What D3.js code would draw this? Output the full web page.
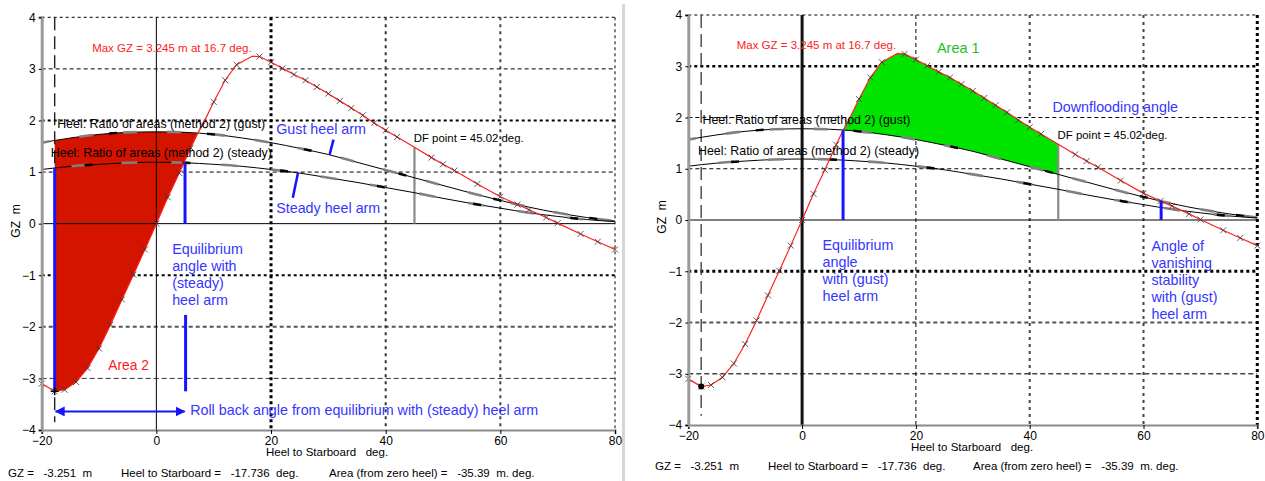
<!DOCTYPE html>
<html>
<head>
<meta charset="utf-8">
<script src="https://cdn.jsdelivr.net/npm/d3@7"></script>
<style>
body { margin: 0; background: #fff; }
svg { display: block; font-family: "Liberation Sans", Arial, sans-serif; }
text { white-space: pre; }
</style>
</head>
<body>
<div class="svg-container"></div>
<script>
//Data
const heelAngles = [-20, -17.736, -16, -14, -12, -10, -8, -6, -4, -2, 0, 2, 4, 6, 7.2, 8, 10, 12, 14, 16.7, 18, 20,
    22, 24, 26, 28, 30, 32, 34, 36, 38, 40, 42, 45.02, 48, 50, 52, 56, 60, 63, 65, 68, 70, 74, 77, 80];
const gzValues = [-3.10, -3.251, -3.22, -3.07, -2.80, -2.42, -1.96, -1.47, -0.99, -0.50, 0, 0.51, 0.98, 1.47, 1.75, 1.90, 2.36, 2.78, 3.08, 3.245, 3.24, 3.13,
    3.01, 2.89, 2.78, 2.65, 2.52, 2.38, 2.24, 2.10, 1.95, 1.81, 1.68, 1.48, 1.28, 1.15, 1.03, 0.77, 0.52, 0.37, 0.27, 0.12, 0.01, -0.20, -0.35, -0.50];

const armAngles = [-20, -15, -10, -5, 0, 5, 10, 15, 20, 25, 30, 35, 40, 45, 50, 55, 60, 65, 70, 75, 80];
const gustArm   = [1.57, 1.66, 1.73, 1.77, 1.78, 1.77, 1.73, 1.66, 1.57, 1.46, 1.34, 1.19, 1.04, 0.89, 0.74, 0.59, 0.45, 0.32, 0.21, 0.12, 0.05];
const steadyArm = [1.05, 1.11, 1.15, 1.18, 1.19, 1.18, 1.15, 1.11, 1.05, 0.98, 0.89, 0.80, 0.70, 0.60, 0.49, 0.39, 0.30, 0.21, 0.14, 0.08, 0.04];

const xTicks = [-20, 0, 20, 40, 60, 80];
const yTicks = [4, 3, 2, 1, 0, -1, -2, -3, -4];

const rollBackHeel = -17.736;
const rollBackGZ = -3.251;
const dfAngle = 45.02;
const eqSteadyAngle = 5.0;
const eqGustAngle = 7.2;
const vanishGustAngle = 63.1;

const readouts = ['GZ =   -3.251  m', 'Heel to Starboard =   -17.736  deg.', 'Area (from zero heel) =   -35.39  m. deg.'];
const labels = {
    maxGZ: 'Max GZ = 3.245 m at 16.7 deg.',
    gust: 'Heel: Ratio of areas (method 2) (gust)',
    steady: 'Heel: Ratio of areas (method 2) (steady)',
    df: 'DF point = 45.02 deg.',
    xTitle: 'Heel to Starboard   deg.',
    yTitle: 'GZ  m'
};

//helpers
const gzAt = d3.scaleLinear().domain(heelAngles).range(gzValues);
const gustAt = d3.scaleLinear().domain(armAngles).range(gustArm);
const steadyAt = d3.scaleLinear().domain(armAngles).range(steadyArm);

const BLUE = '#1414ff';
const BLUE_TXT = '#3535ff';
const BIG = 14.3;   //blue annotation text
const SMALL = 12.4; //black curve labels

const svg = d3.select('.svg-container')
    .append('svg')
    .attr('width', 1265)
    .attr('height', 481);

const defs = svg.append('defs');
defs.append('marker')
    .attr('id', 'arrow')
    .attr('viewBox', '0 0 10 10')
    .attr('refX', 9).attr('refY', 5)
    .attr('markerWidth', 5).attr('markerHeight', 5)
    .attr('orient', 'auto-start-reverse')
    .append('path')
    .attr('d', 'M0,0L10,5L0,10z')
    .attr('fill', BLUE);

//panel separator
svg.append('line')
    .attr('x1', 623.5).attr('x2', 623.5).attr('y1', 4).attr('y2', 481)
    .attr('stroke', '#d6d6d6').attr('stroke-width', 3);

function drawFrame(p) {
    const x = d3.scaleLinear().domain([-20, 80]).range(p.xRange);
    const y = d3.scaleLinear().domain([-4, 4]).range(p.yRange);
    const g = svg.append('g').attr('class', p.name);

    //grid
    p.gridY.forEach(gl => {
        g.append('line')
            .attr('x1', x(-20)).attr('x2', x(80))
            .attr('y1', y(gl.v)).attr('y2', y(gl.v))
            .attr('stroke', gl.c || '#000')
            .attr('stroke-width', gl.w)
            .attr('stroke-dasharray', gl.d || '3,3');
    });
    p.gridX.forEach(gl => {
        g.append('line')
            .attr('x1', x(gl.v)).attr('x2', x(gl.v))
            .attr('y1', y(4)).attr('y2', y(-4))
            .attr('stroke', gl.c || '#000')
            .attr('stroke-width', gl.w)
            .attr('stroke-dasharray', gl.d || '3,3');
    });

    return { g, x, y };
}

function drawAxes(f, p) {
    const { g, x, y } = f;
    const xAxis = d3.axisBottom(x).tickValues(xTicks).tickSize(4).tickPadding(2);
    const xg = g.append('g')
        .attr('transform', `translate(0, ${y(-4)})`)
        .call(xAxis);
    xg.select('.domain').attr('stroke', '#8a8a8a').attr('stroke-width', 2);
    xg.selectAll('text').attr('font-size', 12).attr('font-family', 'Liberation Sans, Arial').attr('fill', '#000');

    const yAxis = d3.axisLeft(y).tickValues(yTicks).tickSize(3).tickPadding(3);
    const yg = g.append('g')
        .attr('transform', `translate(${x(-20)}, 0)`)
        .call(yAxis);
    yg.select('.domain').attr('stroke', '#9a9a9a').attr('stroke-width', 3);
    yg.selectAll('text').attr('font-size', 12).attr('font-family', 'Liberation Sans, Arial').attr('fill', '#000');

    g.append('text')
        .attr('x', p.xTitle[0]).attr('y', p.xTitle[1])
        .attr('font-size', 11.5).attr('dominant-baseline', 'middle')
        .text(labels.xTitle);
    g.append('text')
        .attr('transform', `translate(${p.yTitle[0]}, ${p.yTitle[1]}) rotate(-90)`)
        .attr('font-size', 12).attr('text-anchor', 'middle').attr('dominant-baseline', 'middle')
        .text(labels.yTitle);

    //readouts along the bottom
    readouts.forEach((t, i) => {
        g.append('text')
            .attr('x', p.readX[i]).attr('y', p.readY)
            .attr('font-size', 11.5).attr('dominant-baseline', 'middle')
            .text(t);
    });
}

function drawCurves(f, p) {
    const { g, x, y } = f;
    const armLine = d3.line().x(d => x(d[0])).y(d => y(d[1])).curve(d3.curveMonotoneX);
    [gustArm, steadyArm].forEach((arm, k) => {
        const pts = armAngles.map((a, i) => [a, arm[i]]);
        g.append('path').attr('d', armLine(pts))
            .attr('fill', 'none').attr('stroke', '#000').attr('stroke-width', 1);
        g.append('path').attr('d', armLine(pts))
            .attr('fill', 'none').attr('stroke', '#808080').attr('stroke-width', 2.6)
            .attr('stroke-dasharray', k ? '16,34' : '14,30')
            .attr('stroke-dashoffset', k ? 20 : 6);
        g.append('path').attr('d', armLine(pts))
            .attr('fill', 'none').attr('stroke', '#000').attr('stroke-width', 2.4)
            .attr('stroke-dasharray', '8,90')
            .attr('stroke-dashoffset', k ? 55 : 30);
    });

    //GZ curve
    const gzLine = d3.line().x(d => x(d[0])).y(d => y(d[1]));
    const gzPts = heelAngles.map((a, i) => [a, gzValues[i]]);
    g.append('path').attr('d', gzLine(gzPts))
        .attr('fill', 'none').attr('stroke', '#ff2020').attr('stroke-width', 1.2);
    g.append('g').selectAll('path.mark')
        .data(gzPts.filter(d => d[0] !== 16.7 && d[0] !== 7.2 && d[0] !== dfAngle))
        .enter()
        .append('path')
        .attr('class', 'mark')
        .attr('transform', d => `translate(${x(d[0])}, ${y(d[1])})`)
        .attr('d', 'M-3,-3L3,3M-3,3L3,-3')
        .attr('stroke', '#333').attr('stroke-width', 0.8);
}

function fillBetween(f, lo, hi, lowerFn, upperFn, color) {
    const { g, x, y } = f;
    const xs = Array.from(new Set([lo, hi]
        .concat(heelAngles.filter(a => a > lo && a < hi))
        .concat(armAngles.filter(a => a > lo && a < hi))))
        .sort((a, b) => a - b);
    const area = d3.area()
        .x(d => x(d))
        .y0(d => y(lowerFn(d)))
        .y1(d => y(upperFn(d)));
    g.append('path').attr('d', area(xs)).attr('fill', color);
}

function addText(g, px, py, str, size, color, lines) {
    const t = g.append('text')
        .attr('x', px).attr('y', py)
        .attr('font-size', size).attr('fill', color)
        .attr('dominant-baseline', 'middle');
    if (lines) {
        lines.forEach((l, i) => t.append('tspan').attr('x', px).attr('dy', i ? 17 : 0).text(l));
    } else {
        t.text(str);
    }
    return t;
}

///////////////////////////////////////////////////////////
// LEFT PANEL - steady heel arm, area 2
const leftCfg = {
    name: 'left',
    xRange: [41.7, 615],
    yRange: [430, 17.3],
    gridY: [
        { v: 4, w: 1 }, { v: 3, w: 1, d: '4,3' }, { v: 2, w: 2.2 }, { v: 1, w: 1, d: '4,3' },
        { v: -1, w: 2.2 }, { v: -2, w: 2, c: '#555', d: '4,3' }, { v: -3, w: 1, c: '#333', d: '5,3' }
    ],
    gridX: [
        { v: 20, w: 3, d: '3,3' }, { v: 40, w: 2, c: '#333', d: '3,4' }, { v: 60, w: 2, c: '#444', d: '3,4' }, { v: 80, w: 1, d: '3,3' }
    ],
    xTitle: [266, 453],
    yTitle: [17, 221],
    readX: [8, 121, 329],
    readY: 474
};
const L = drawFrame(leftCfg);

fillBetween(L, rollBackHeel, eqGustAngle, gzAt, gustAt, '#d51400');

L.g.append('line')
    .attr('x1', L.x(0)).attr('x2', L.x(0)).attr('y1', L.y(4)).attr('y2', L.y(-4))
    .attr('stroke', '#000').attr('stroke-width', 1);
L.g.append('line')
    .attr('x1', L.x(-20)).attr('x2', L.x(80)).attr('y1', L.y(0)).attr('y2', L.y(0))
    .attr('stroke', '#000').attr('stroke-width', 1);
L.g.append('line')
    .attr('x1', L.x(rollBackHeel)).attr('x2', L.x(rollBackHeel)).attr('y1', L.y(4)).attr('y2', L.y(-3.85))
    .attr('stroke', '#222').attr('stroke-width', 1.4).attr('stroke-dasharray', '13,6');
L.g.append('line')
    .attr('x1', L.x(dfAngle)).attr('x2', L.x(dfAngle)).attr('y1', L.y(0)).attr('y2', L.y(gzAt(dfAngle)))
    .attr('stroke', '#8a8a8a').attr('stroke-width', 2.2);

drawCurves(L, leftCfg);
drawAxes(L, leftCfg);

//blue markers
L.g.append('line')
    .attr('x1', L.x(rollBackHeel)).attr('x2', L.x(rollBackHeel))
    .attr('y1', L.y(steadyAt(rollBackHeel))).attr('y2', L.y(rollBackGZ))
    .attr('stroke', BLUE).attr('stroke-width', 3);
L.g.append('line')
    .attr('x1', L.x(eqSteadyAngle)).attr('x2', L.x(eqSteadyAngle))
    .attr('y1', L.y(0)).attr('y2', L.y(steadyAt(eqSteadyAngle)))
    .attr('stroke', BLUE).attr('stroke-width', 3);
L.g.append('line')
    .attr('x1', L.x(5.1)).attr('x2', L.x(5.1))
    .attr('y1', L.y(-1.77)).attr('y2', L.y(-3.25))
    .attr('stroke', BLUE).attr('stroke-width', 3);
L.g.append('line')
    .attr('x1', L.x(rollBackHeel) + 1).attr('x2', L.x(5.1) - 1)
    .attr('y1', L.y(-3.64)).attr('y2', L.y(-3.64))
    .attr('stroke', BLUE).attr('stroke-width', 2)
    .attr('marker-start', 'url(#arrow)').attr('marker-end', 'url(#arrow)');
L.g.append('line')
    .attr('x1', L.x(30.9)).attr('x2', L.x(30.2)).attr('y1', L.y(1.63)).attr('y2', L.y(1.33))
    .attr('stroke', BLUE).attr('stroke-width', 2.5);
L.g.append('line')
    .attr('x1', L.x(24.7)).attr('x2', L.x(23.8)).attr('y1', L.y(0.98)).attr('y2', L.y(0.50))
    .attr('stroke', BLUE).attr('stroke-width', 2.5);
L.g.append('path')
    .attr('transform', `translate(${L.x(rollBackHeel)}, ${L.y(rollBackGZ)})`)
    .attr('d', 'M-4,0L4,0M0,-4L0,4')
    .attr('stroke', '#000').attr('stroke-width', 1.5);

//texts
addText(L.g, L.x(-11.2), L.y(3.39), labels.maxGZ, 11.5, '#ff2020');
addText(L.g, L.x(-17.3), L.y(1.92), labels.gust, SMALL, '#000');
addText(L.g, L.x(-18.4), L.y(1.36), labels.steady, SMALL, '#000');
addText(L.g, L.x(44.9), L.y(1.65), labels.df, 11.4, '#000');
addText(L.g, L.x(20.9), L.y(1.82), 'Gust heel arm', BIG, BLUE_TXT);
addText(L.g, L.x(20.9), L.y(0.28), 'Steady heel arm', BIG, BLUE_TXT);
addText(L.g, L.x(2.76), L.y(-0.52), null, BIG, BLUE_TXT, ['Equilibrium', 'angle with', '(steady)', 'heel arm']);
addText(L.g, L.x(-8.4), L.y(-2.77), 'Area 2', 13.8, '#ff2020');
addText(L.g, L.x(5.9), L.y(-3.64), 'Roll back angle from equilibrium with (steady) heel arm', BIG, BLUE_TXT);

///////////////////////////////////////////////////////////
// RIGHT PANEL - gust heel arm, area 1
const rightCfg = {
    name: 'right',
    xRange: [688.3, 1257.3],
    yRange: [425, 15],
    gridY: [
        { v: 4, w: 1 }, { v: 3, w: 2.4 }, { v: 2, w: 1, d: '4,3' }, { v: 1, w: 1, d: '4,3' },
        { v: -1, w: 3 }, { v: -2, w: 2, c: '#555', d: '4,3' }, { v: -3, w: 1.4, c: '#444', d: '5,3' }
    ],
    gridX: [
        { v: 20, w: 1, d: '4,3' }, { v: 40, w: 2, c: '#444', d: '3,4' }, { v: 60, w: 2, c: '#444', d: '3,4' }, { v: 80, w: 3, d: '3,3' }
    ],
    xTitle: [911, 448],
    yTitle: [663, 217],
    readX: [655, 768, 973],
    readY: 467
};
const R = drawFrame(rightCfg);

fillBetween(R, eqGustAngle, dfAngle, gustAt, gzAt, '#00e400');

R.g.append('line')
    .attr('x1', R.x(-20)).attr('x2', R.x(80)).attr('y1', R.y(0)).attr('y2', R.y(0))
    .attr('stroke', '#000').attr('stroke-width', 1);
R.g.append('line')
    .attr('x1', R.x(0)).attr('x2', R.x(0)).attr('y1', R.y(4)).attr('y2', R.y(-4))
    .attr('stroke', '#111').attr('stroke-width', 3);
R.g.append('line')
    .attr('x1', R.x(rollBackHeel)).attr('x2', R.x(rollBackHeel)).attr('y1', R.y(4)).attr('y2', R.y(-3.82))
    .attr('stroke', '#444').attr('stroke-width', 1.4).attr('stroke-dasharray', '13,6');
R.g.append('line')
    .attr('x1', R.x(dfAngle)).attr('x2', R.x(dfAngle)).attr('y1', R.y(0)).attr('y2', R.y(gzAt(dfAngle)))
    .attr('stroke', '#8a8a8a').attr('stroke-width', 2.2);

drawCurves(R, rightCfg);
drawAxes(R, rightCfg);

R.g.append('line')
    .attr('x1', R.x(eqGustAngle)).attr('x2', R.x(eqGustAngle))
    .attr('y1', R.y(0)).attr('y2', R.y(gustAt(eqGustAngle)))
    .attr('stroke', BLUE).attr('stroke-width', 3);
R.g.append('line')
    .attr('x1', R.x(vanishGustAngle)).attr('x2', R.x(vanishGustAngle))
    .attr('y1', R.y(0)).attr('y2', R.y(gustAt(vanishGustAngle)))
    .attr('stroke', BLUE).attr('stroke-width', 3);
R.g.append('circle')
    .attr('cx', R.x(rollBackHeel)).attr('cy', R.y(rollBackGZ)).attr('r', 3)
    .attr('fill', '#000');

addText(R.g, R.x(-11.5), R.y(3.40), labels.maxGZ, 11.5, '#ff2020');
addText(R.g, R.x(23.7), R.y(3.33), 'Area 1', 14.5, '#22c022');
addText(R.g, R.x(44.0), R.y(2.18), 'Downflooding angle', BIG, BLUE_TXT);
addText(R.g, R.x(-17.5), R.y(1.94), labels.gust, SMALL, '#000');
addText(R.g, R.x(-18.3), R.y(1.33), labels.steady, SMALL, '#000');
addText(R.g, R.x(44.9), R.y(1.63), labels.df, 11.4, '#000');
addText(R.g, R.x(3.6), R.y(-0.50), null, BIG, BLUE_TXT, ['Equilibrium', 'angle', 'with (gust)', 'heel arm']);
addText(R.g, R.x(61.4), R.y(-0.52), null, BIG, BLUE_TXT, ['Angle of', 'vanishing', 'stability', 'with (gust)', 'heel arm']);
</script>
</body>
</html>
